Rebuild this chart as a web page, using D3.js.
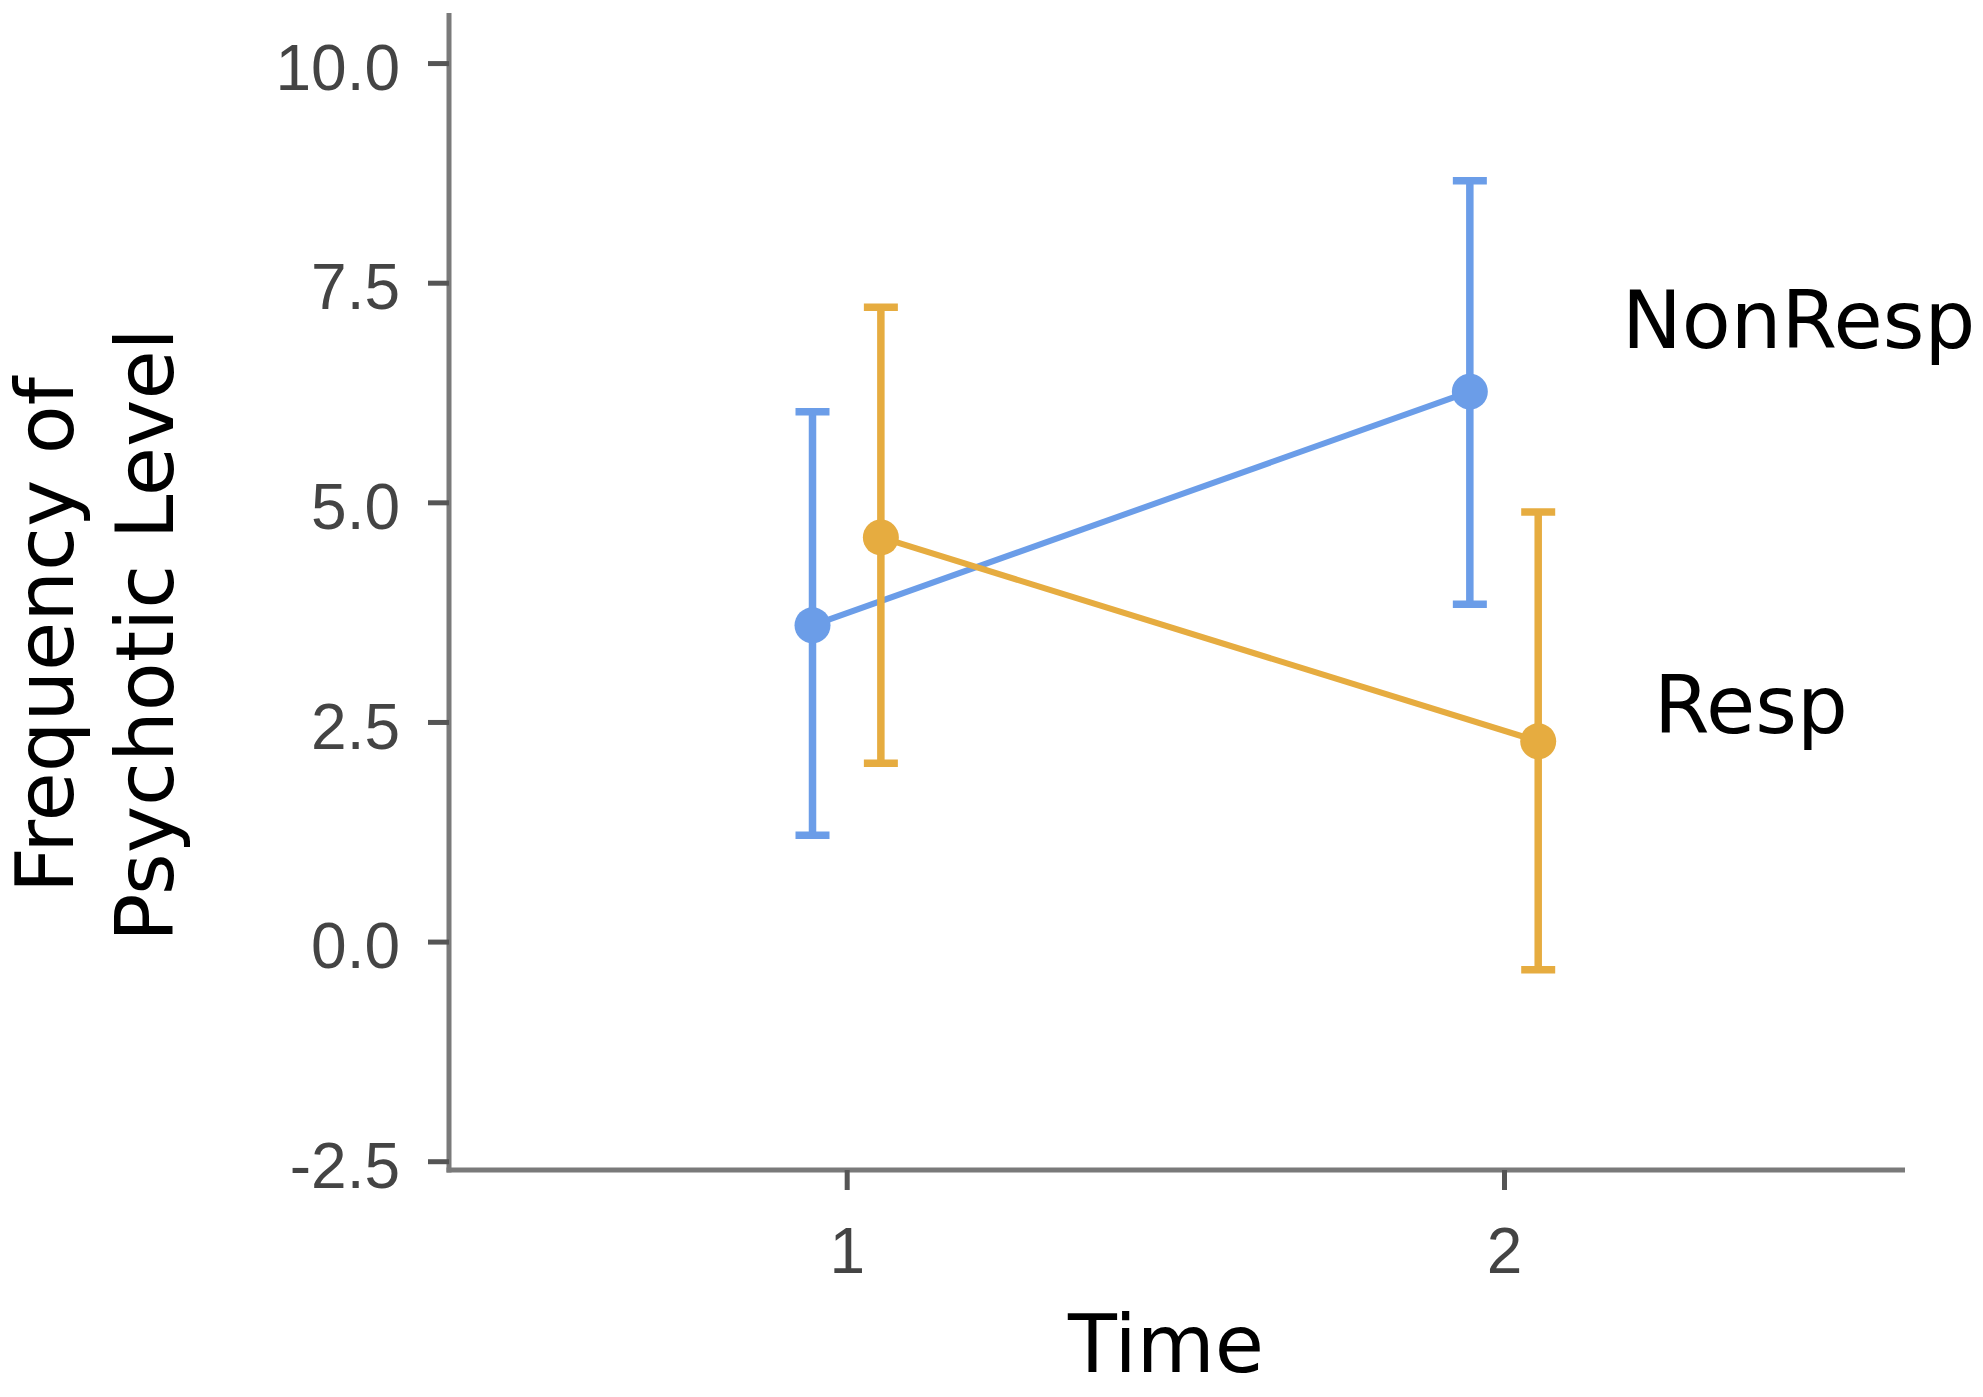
<!DOCTYPE html>
<html>
<head>
<meta charset="utf-8">
<script src="https://cdn.jsdelivr.net/npm/d3@7"></script>
<style>
  body { margin: 0; background: #fff; }
  .tick text { font-family: "Liberation Sans", Arial, sans-serif; }
</style>
</head>
<body>
<div id="chart"></div>
<script>
// data
const times = [1, 2];
const groups = ["NonResp", "Resp"];
const groupColors = ["#6B9DE8", "#E6AC40"];
const nonRespMean = [3.60, 6.26];
const nonRespLower = [1.21, 3.84];
const nonRespUpper = [6.03, 8.66];
const respMean = [4.60, 2.28];
const respLower = [2.03, -0.32];
const respUpper = [7.22, 4.89];
const yTicks = [-2.5, 0, 2.5, 5, 7.5, 10];

const series = [
    {name: groups[0], color: groupColors[0], dodge: -0.052, mean: nonRespMean, lo: nonRespLower, hi: nonRespUpper},
    {name: groups[1], color: groupColors[1], dodge: 0.052, mean: respMean, lo: respLower, hi: respUpper}
];

const width = 1983, height = 1397;

const svg = d3.select("#chart").append("svg")
    .attr("width", width)
    .attr("height", height);

// scales
const x = d3.scaleLinear().domain([0.395, 2.61]).range([449, 1905]);
const y = d3.scaleLinear().domain([-2.6, 10.57]).range([1170, 13]);

// axes (plain hyphen for negatives, like the original)
const fmt = d3.format(".1f");
const yAxis = d3.axisLeft(y).tickValues(yTicks)
    .tickFormat(d => fmt(d).replace("\u2212", "-"))
    .tickSize(21).tickPadding(28);
const xAxis = d3.axisBottom(x).tickValues(times).tickFormat(d3.format("d")).tickSize(20).tickPadding(38);

const yg = svg.append("g").attr("transform", `translate(${x.range()[0]},0)`).call(yAxis);
const xg = svg.append("g").attr("transform", `translate(0,${y.range()[0]})`).call(xAxis);

[yg, xg].forEach(g => {
    g.select(".domain").attr("stroke", "#7a7a7a").attr("stroke-width", 5);
    g.selectAll(".tick line").attr("stroke", "#555").attr("stroke-width", 5);
    g.selectAll(".tick text").attr("font-size", 64).attr("fill", "#444");
});
yg.selectAll(".tick text").attr("dy", "0.41em");
yg.select(".domain").attr("d", `M0,${y.range()[1]}V${y.range()[0] + 2.5}`);
xg.select(".domain").attr("d", `M${x.range()[0] - 2.5},0H${x.range()[1]}`);

const plot = svg.append("g");

// connecting lines
series.forEach(s => {
    const line = d3.line()
        .x((d, i) => x(times[i] + s.dodge))
        .y(d => y(d));
    plot.append("path")
        .datum(s.mean)
        .attr("d", line)
        .attr("fill", "none")
        .attr("stroke", s.color)
        .attr("stroke-width", 6);
});

// error bars
const capHalf = 17;
series.forEach(s => {
    const g = plot.append("g").attr("stroke", s.color).attr("stroke-width", 7.5);
    times.forEach((t, i) => {
        const cx = x(t + s.dodge);
        g.append("line").attr("x1", cx).attr("x2", cx).attr("y1", y(s.lo[i])).attr("y2", y(s.hi[i]));
        g.append("line").attr("x1", cx - capHalf).attr("x2", cx + capHalf).attr("y1", y(s.lo[i])).attr("y2", y(s.lo[i]));
        g.append("line").attr("x1", cx - capHalf).attr("x2", cx + capHalf).attr("y1", y(s.hi[i])).attr("y2", y(s.hi[i]));
    });
});

// points
series.forEach(s => {
    plot.selectAll(null)
        .data(s.mean)
        .join("circle")
        .attr("cx", (d, i) => x(times[i] + s.dodge))
        .attr("cy", d => y(d))
        .attr("r", 18)
        .attr("fill", s.color);
});

// group labels
const labelFont = "'DejaVu Sans', Verdana, sans-serif";
svg.append("text").text(groups[0])
    .attr("x", 1622).attr("y", 348)
    .attr("font-family", labelFont).attr("font-size", 80).attr("fill", "#000");
svg.append("text").text(groups[1])
    .attr("x", 1654).attr("y", 733)
    .attr("font-family", labelFont).attr("font-size", 80).attr("fill", "#000");

// axis titles
svg.append("text").text("Time")
    .attr("x", 1166).attr("y", 1372)
    .attr("text-anchor", "middle")
    .attr("font-family", labelFont).attr("font-size", 80).attr("fill", "#000");

const yTitle = svg.append("text")
    .attr("transform", "translate(73,635) rotate(-90)")
    .attr("text-anchor", "middle")
    .attr("font-family", labelFont).attr("font-size", 80).attr("fill", "#000");
yTitle.append("tspan").attr("x", 0).attr("y", 0).text("Frequency of");
yTitle.append("tspan").attr("x", 0).attr("y", 100).text("Psychotic Level");
</script>
</body>
</html>
